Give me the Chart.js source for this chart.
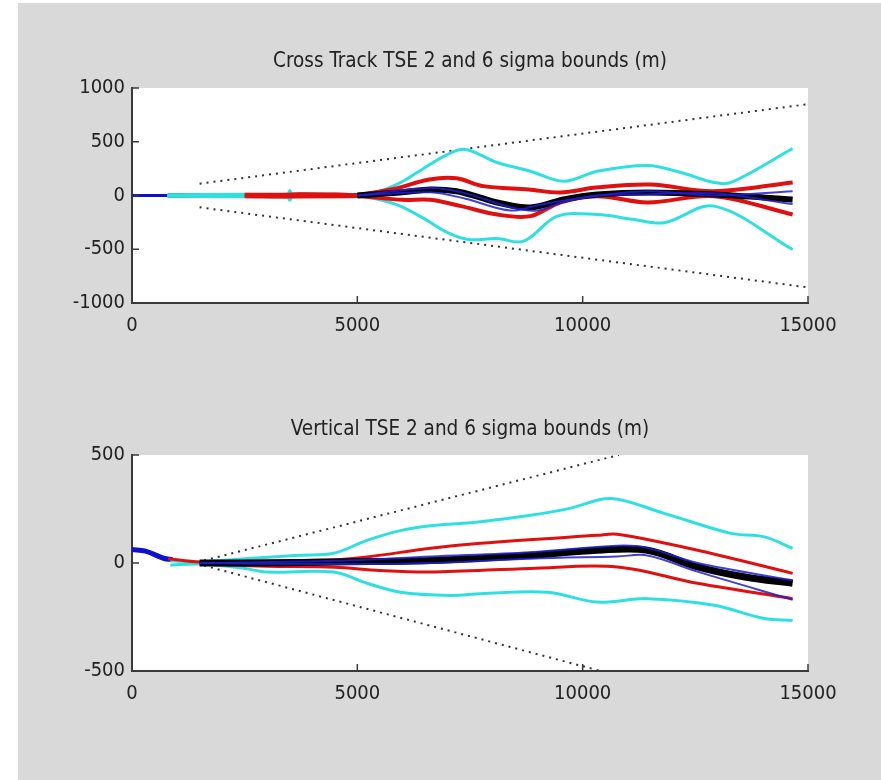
<!DOCTYPE html>
<html>
<head>
<meta charset="utf-8">
<script src="https://cdn.jsdelivr.net/npm/chart.js@4.4.0/dist/chart.umd.min.js"></script>
<style>
  body { margin: 0; background: #fff; }
  #figure { position: absolute; left: 18px; top: 3px; width: 863px; height: 777px; background: #d9d9d9; }
  canvas { position: absolute; left: 0; }
  #crossCanvas { top: 0; }
  #vertCanvas { top: 390px; }
</style>
</head>
<body>
<div id="figure"></div>
<canvas id="crossCanvas" width="881" height="390"></canvas>
<canvas id="vertCanvas" width="881" height="390"></canvas>
<script>
// x = along-track distance (m), y = TSE (m)
const xTicks = [0, 5000, 10000, 15000];

// Cross track
const crossYTicks = [-1000, -500, 0, 500, 1000];
const crossStart = [[0, 0], [800, 0]];
const crossSixUp = [[1500, 110], [15000, 850]];
const crossSixLow = [[1500, -110], [15000, -855]];
const crossCyanUp = [[780, 8], [2500, 12], [3450, 12], [3500, 45], [3560, 12], [4500, 10], [5000, 8], [5500, 40], [5955, 120], [6326, 214], [6993, 381], [7400, 428], [8104, 307], [8844, 226], [9578, 133], [10326, 226], [11437, 279], [12178, 214], [12919, 121], [13289, 121], [14659, 437]];
const crossCyanLow = [[780, -8], [2500, -12], [3450, -12], [3500, -45], [3560, -12], [5000, -8], [5500, -40], [5955, -99], [6500, -220], [6993, -344], [7450, -409], [8100, -400], [8690, -425], [9437, -192], [10326, -177], [11100, -220], [11807, -253], [12919, -99], [14659, -502]];
const crossRedUp = [[2500, 8], [3400, 8], [3700, 12], [4700, 8], [5000, 5], [5800, 60], [6600, 149], [7200, 160], [7800, 87], [8800, 56], [9500, 28], [10300, 74], [11500, 102], [12900, 40], [14659, 121]];
const crossRedLow = [[2500, -8], [4700, -8], [5000, -5], [6000, -40], [6622, -40], [7300, -99], [8104, -177], [8844, -192], [9500, -65], [10326, -6], [11437, -65], [12919, -6], [14659, -177]];
const crossEarly = [[800, 0], [2500, 0], [3400, -5], [3700, 5], [5000, 0]];
const crossMean = [[5000, 0], [6000, 30], [6622, 56], [7200, 40], [7733, -20], [8104, -65], [8844, -112], [9578, -37], [10326, 9], [11437, 28], [12919, 9], [14659, -37]];
const crossRunA = [[5000, 0], [6622, 70], [7400, 20], [8400, -110], [9000, -140], [9578, -60], [10326, 0], [11437, 10], [12919, 20], [14659, -80]];
const crossRunB = [[5000, 0], [6622, 30], [7400, -30], [8400, -140], [9000, -90], [10000, -20], [11437, 40], [12919, 0], [14659, 40]];

// Vertical
const vertYTicks = [-500, 0, 500];
const vertStart = [[0, 62], [300, 55], [700, 22], [900, 15]];
const vertSixUp = [[1600, 12], [10800, 500]];
const vertSixLow = [[1600, -12], [10400, -500]];
const vertCyanUp = [[850, 10], [1500, 5], [2500, 20], [3711, 36], [4474, 45], [5215, 105], [5955, 150], [6622, 172], [7733, 191], [8844, 221], [9733, 254], [10622, 299], [11807, 230], [13289, 137], [14030, 121], [14659, 68]];
const vertCyanLow = [[850, -10], [1500, -5], [2500, -25], [2993, -42], [4474, -42], [5215, -94], [5955, -135], [7067, -150], [7733, -142], [9215, -135], [10326, -181], [11437, -165], [12919, -196], [14030, -257], [14659, -266]];
const vertRedUp = [[800, 20], [1500, 5], [3000, 10], [4500, 15], [5215, 28], [6622, 68], [7733, 91], [10326, 128], [10770, 133], [12548, 59], [14659, -48]];
const vertRedLow = [[1500, -5], [3000, -15], [4500, -20], [5500, -35], [6622, -42], [8844, -25], [10770, -18], [12548, -94], [14659, -165]];
const vertMean = [[1500, 0], [3000, 0], [4500, 5], [6622, 12], [8844, 36], [10326, 59], [11437, 59], [12548, -18], [13600, -65], [14659, -94]];
const vertRunA = [[1500, 0], [4500, 10], [6622, 30], [8844, 50], [10770, 80], [11437, 70], [12548, 0], [14659, -80]];
const vertRunB = [[1500, 0], [4500, -5], [6622, 0], [8844, 20], [10770, 30], [11437, 35], [12548, -40], [14659, -170]];

const FONT = "'Liberation Sans Narrow', 'DejaVu Sans Condensed', 'Liberation Sans', sans-serif";

const plotBg = {
  id: 'plotBg',
  beforeDraw(chart) {
    const { ctx, chartArea: a } = chart;
    ctx.save();
    ctx.fillStyle = '#fff';
    ctx.fillRect(a.left, a.top, a.right - a.left, a.bottom - a.top);
    ctx.restore();
  }
};

// matlab style ticks pointing into the axes
const innerTicks = {
  id: 'innerTicks',
  afterDraw(chart) {
    const { ctx, chartArea: a, scales } = chart;
    ctx.save();
    ctx.strokeStyle = '#3a3a3a';
    ctx.lineWidth = 1.5;
    scales.x.ticks.forEach(t => {
      const px = scales.x.getPixelForValue(t.value);
      ctx.beginPath(); ctx.moveTo(px, a.bottom); ctx.lineTo(px, a.bottom - 7); ctx.stroke();
    });
    scales.y.ticks.forEach(t => {
      const py = scales.y.getPixelForValue(t.value);
      ctx.beginPath(); ctx.moveTo(a.left, py); ctx.lineTo(a.left + 7, py); ctx.stroke();
    });
    ctx.restore();
  }
};

function line(points, color, width, order, dash) {
  return {
    data: points.map(p => ({ x: p[0], y: p[1] })),
    borderColor: color,
    borderWidth: width,
    borderDash: dash || [],
    pointRadius: 0,
    tension: dash ? 0 : 0.35,
    fill: false,
    order: order
  };
}

function makeChart(id, title, yTicks, datasets, pad) {
  const yMin = yTicks[0], yMax = yTicks[yTicks.length - 1];
  return new Chart(document.getElementById(id), {
    type: 'line',
    data: { datasets: datasets },
    plugins: [plotBg, innerTicks],
    options: {
      responsive: false,
      devicePixelRatio: 1,
      animation: false,
      layout: { padding: { top: pad.top, right: 73, bottom: 0, left: 0 } },
      plugins: {
        legend: { display: false },
        tooltip: { enabled: false },
        title: {
          display: true,
          text: title,
          fullSize: false,
          color: '#222',
          font: { family: FONT, size: 20.5, weight: 'normal', lineHeight: 1 },
          padding: { top: 0, bottom: pad.titleGap }
        }
      },
      scales: {
        x: {
          type: 'linear',
          min: 0,
          max: 15000,
          afterFit(scale) { scale.height = pad.xAxis; },
          afterBuildTicks(scale) { scale.ticks = xTicks.map(v => ({ value: v })); },
          ticks: { callback: v => String(v), color: '#222', padding: 11, maxRotation: 0, font: { family: FONT, size: 20 } },
          grid: { display: true, drawOnChartArea: false, drawTicks: false },
          border: { display: true, color: '#3a3a3a', width: 2 }
        },
        y: {
          type: 'linear',
          min: yMin,
          max: yMax,
          afterFit(scale) { scale.width = 132; },
          afterBuildTicks(scale) { scale.ticks = yTicks.map(v => ({ value: v })); },
          ticks: { callback: v => String(v), color: '#222', padding: 7, font: { family: FONT, size: 20 } },
          grid: { display: true, drawOnChartArea: false, drawTicks: false },
          border: { display: true, color: '#3a3a3a', width: 2 }
        }
      }
    }
  });
}

const DOT = [2, 5];
const CYAN = '#2fe0e0';
const RED = '#e01010';
const BLUE = 'rgba(30,30,210,0.85)';

makeChart('crossCanvas', 'Cross Track TSE 2 and 6 sigma bounds (m)', crossYTicks, [
  line(crossRunA, BLUE, 2, 1),
  line(crossRunB, BLUE, 2, 2),
  line(crossMean, '#000', 6, 3),
  line(crossRedUp, RED, 4, 4),
  line(crossRedLow, RED, 4, 5),
  line(crossCyanUp, CYAN, 3, 6),
  line(crossCyanLow, CYAN, 3, 7),
  line(crossEarly, '#4a6a6a', 5, 8),
  line(crossStart, '#1010d0', 3, 9),
  line(crossSixUp, '#333', 2, 10, DOT),
  line(crossSixLow, '#333', 2, 11, DOT)
], { top: 51.75, titleGap: 15.75, xAxis: 87 });

makeChart('vertCanvas', 'Vertical TSE 2 and 6 sigma bounds (m)', vertYTicks, [
  line(vertRunA, BLUE, 2, 1),
  line(vertRunB, BLUE, 2, 2),
  line(vertMean, '#000', 7, 3),
  line(vertRedUp, RED, 3, 4),
  line(vertRedLow, RED, 3, 5),
  line(vertCyanUp, CYAN, 3, 6),
  line(vertCyanLow, CYAN, 3, 7),
  line(vertStart, '#1010d0', 5, 8),
  line(vertSixUp, '#333', 2, 9, DOT),
  line(vertSixLow, '#333', 2, 10, DOT)
], { top: 29.75, titleGap: 14.75, xAxis: 109 });
</script>
</body>
</html>
